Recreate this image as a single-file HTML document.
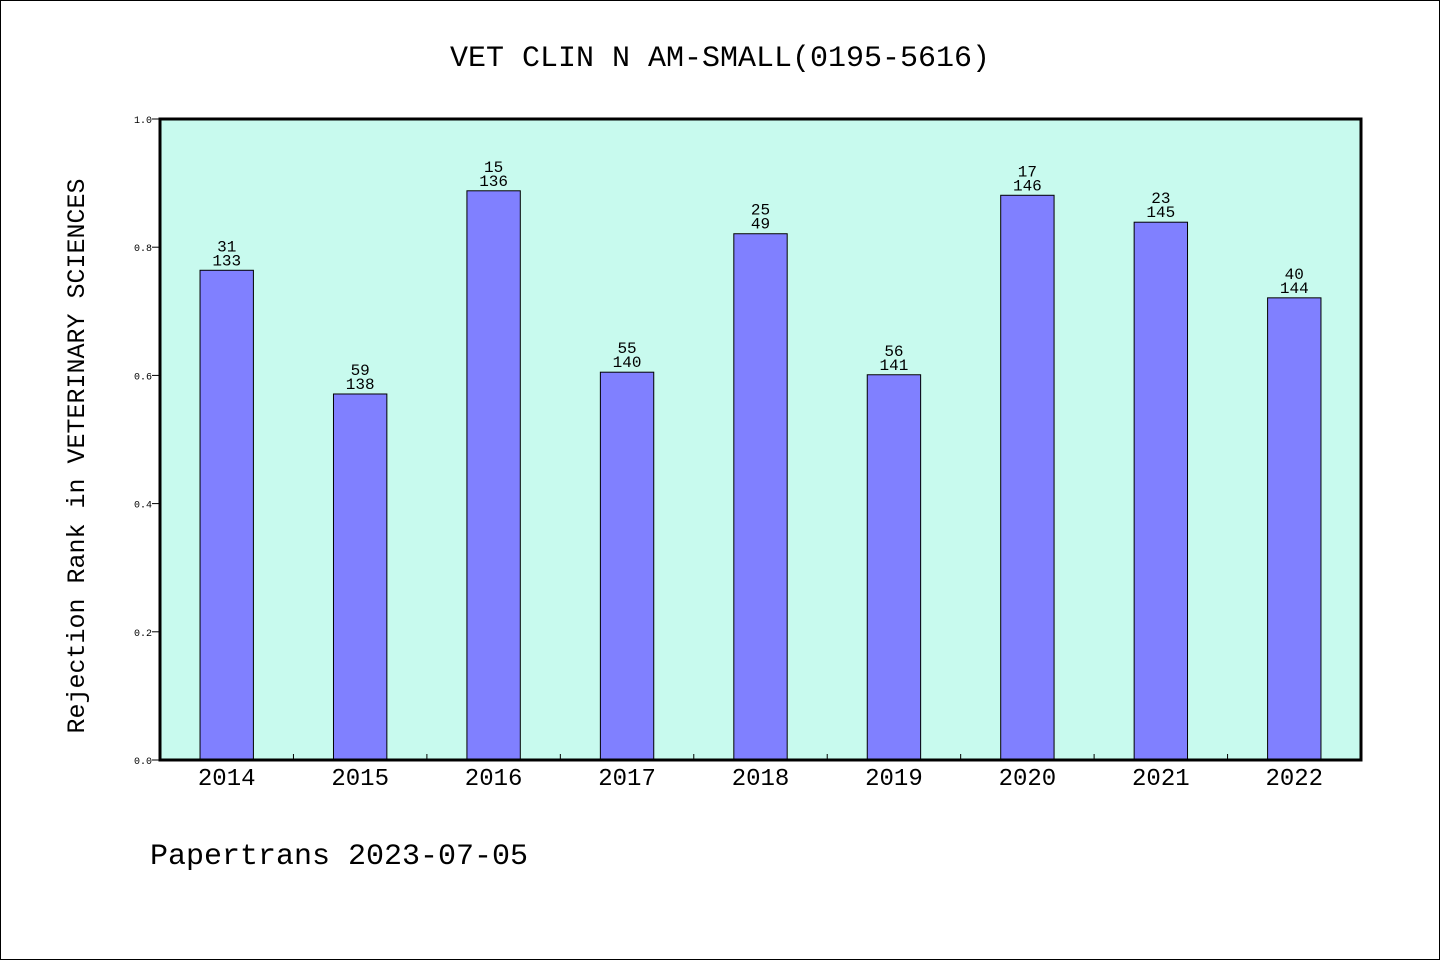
<!DOCTYPE html>
<html><head><meta charset="utf-8"><style>
body{margin:0;background:#fff}
svg{display:block;font-family:"Liberation Mono","DejaVu Sans Mono",monospace}
</style></head><body>
<svg id="c" width="1440" height="960" viewBox="0 0 1440 960">
<rect x="0.5" y="0.5" width="1439" height="959" fill="#fff" stroke="#000"/>
<text x="720" y="66" font-size="30" text-anchor="middle">VET CLIN N AM-SMALL(0195-5616)</text>
<rect x="160" y="119" width="1201" height="641" fill="#c8faee"/>
<g id="bars"></g>
<rect x="160" y="119" width="1201" height="641" fill="none" stroke="#000" stroke-width="3"/>
<text transform="translate(84,456) rotate(-90)" font-size="25" text-anchor="middle">Rejection Rank in VETERINARY SCIENCES</text>
<text x="150" y="864" font-size="30">Papertrans 2023-07-05</text>
</svg>
<script>
const categories=["2014","2015","2016","2017","2018","2019","2020","2021","2022"];
const values=[0.764,0.571,0.888,0.605,0.821,0.601,0.881,0.839,0.721];
const ranks=[31,59,15,55,25,56,17,23,40];
const totals=[133,138,136,140,49,141,146,145,144];
const yTicks=[0,0.2,0.4,0.6,0.8,1.0];
const NS="http://www.w3.org/2000/svg";
const X0=160,W=1201,Y0=760,H=641,step=W/categories.length;
const xs=i=>X0+step*(i+0.5);
const ys=v=>Y0-v*H;
const g=document.getElementById('bars');
function mk(t,a){const e=document.createElementNS(NS,t);for(const k in a)e.setAttribute(k,a[k]);g.appendChild(e);return e;}
categories.forEach((c,i)=>{
  const v=values[i];
  const bw=step*0.4;
  const r=mk('rect',{x:xs(i)-bw/2,y:ys(v),width:bw,height:Y0-ys(v),fill:'#8080ff',stroke:'#000','stroke-width':1});
  
  
  const t1=mk('text',{x:xs(i),y:ys(v)-19,'font-size':16,'text-anchor':'middle'});
  t1.textContent=ranks[i];
  
  
  const t2=mk('text',{x:xs(i),y:ys(v)-5,'font-size':16,'text-anchor':'middle'});
  t2.textContent=totals[i];
  
  
  const xl=mk('text',{x:xs(i),y:785,'font-size':24,'text-anchor':'middle'});
  xl.textContent=c;
  
  
  if(i>0){
    const tk=mk('line',{x1:X0+step*i,x2:X0+step*i,y1:Y0,y2:Y0-6,stroke:'#000'});
    
    
  }
});
yTicks.forEach(v=>{
  const tk=mk('line',{x1:X0-8,x2:X0,y1:ys(v),y2:ys(v),stroke:'#000'});
  
  
  const t=mk('text',{x:X0-8,y:ys(v)+4,'font-size':10,'text-anchor':'end'});
  t.textContent=v.toFixed(1);
  
  
});
</script>
</body></html>
